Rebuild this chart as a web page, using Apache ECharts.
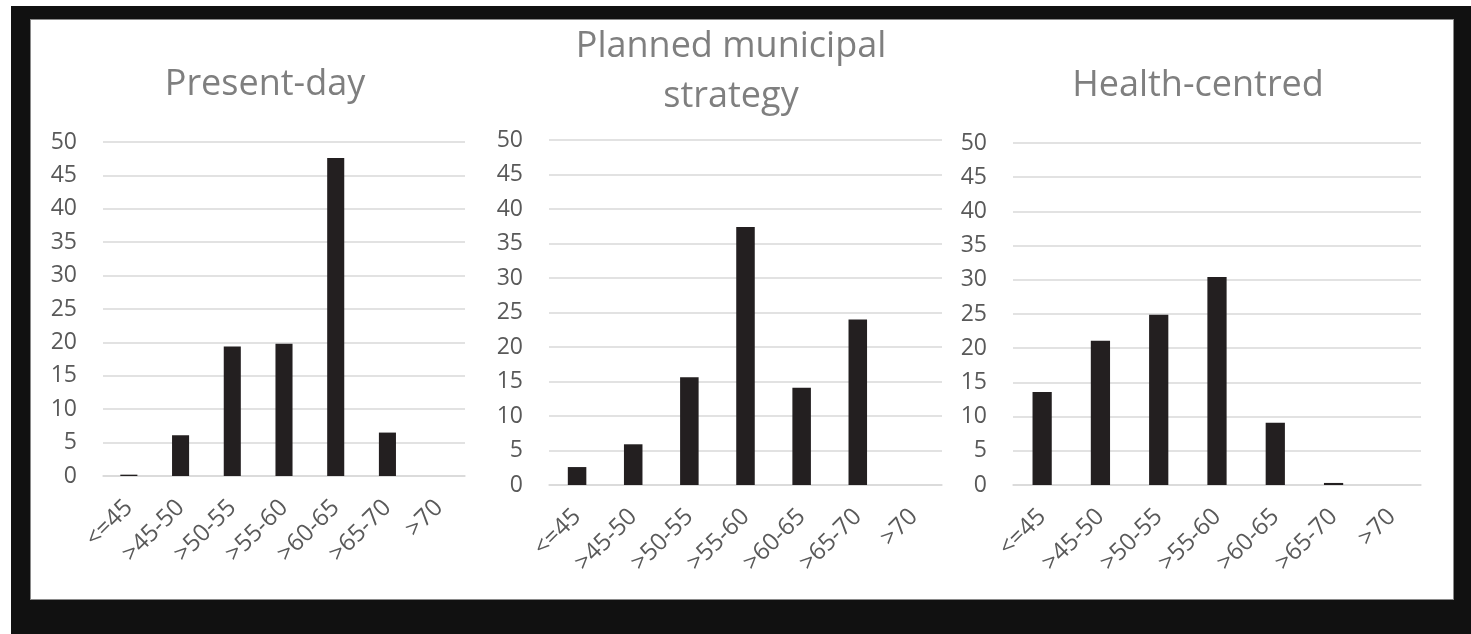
<!DOCTYPE html>
<html>
<head>
<meta charset="utf-8">
<script src="https://cdn.jsdelivr.net/npm/echarts@6/dist/echarts.min.js"></script>
<style>
  html, body { margin: 0; padding: 0; background: #ffffff; width: 1471px; height: 634px; overflow: hidden; }
  #frame { position: absolute; left: 11px; top: 6px; width: 1460px; height: 628px; background: #111111; }
  #inner { position: absolute; left: 30px; top: 19px; width: 1422px; height: 579px; background: #ffffff; border: 1px solid #8a8a8a; }
  #chart { position: absolute; left: 0; top: 0; width: 1471px; height: 634px; }
</style>
</head>
<body>
<div id="frame"></div>
<div id="inner"></div>
<div id="chart"></div>
<script>
const categories = ['<=45', '>45-50', '>50-55', '>55-60', '>60-65', '>65-70', '>70'];
const presentDay = [0.2, 6.1, 19.4, 19.8, 47.6, 6.5, 0];
const plannedMunicipal = [2.6, 5.9, 15.6, 37.4, 14.1, 24.0, 0];
const healthCentred = [13.6, 21.1, 24.9, 30.4, 9.1, 0.3, 0];
const titles = ['Present-day', 'Planned municipal\nstrategy', 'Health-centred'];
const yMin = 0, yMax = 50, yStep = 5;

const chart = echarts.init(document.getElementById('chart'), null, { renderer: 'canvas' });
const FONT = 'Open Sans';
const grids = [
  { left: 103, top: 142, width: 362, height: 334 },
  { left: 549, top: 140, width: 393, height: 345 },
  { left: 1013, top: 143, width: 408, height: 342 }
];
const titleCenters = [
  { x: 265, top: 60 },
  { x: 731, top: 22 },
  { x: 1198, top: 61 }
];
const seriesData = [presentDay, plannedMunicipal, healthCentred];

const option = {
  backgroundColor: 'transparent',
  animation: false,
  title: titles.map((t, i) => ({
    text: t,
    left: titleCenters[i].x,
    top: titleCenters[i].top,
    textAlign: 'center',
    padding: 0,
    textStyle: { fontFamily: FONT, fontSize: 36, fontWeight: 'normal', color: '#7f7f7f', lineHeight: 50 }
  })),
  grid: grids.map(g => Object.assign({ containLabel: false }, g)),
  xAxis: grids.map((g, i) => ({
    type: 'category',
    gridIndex: i,
    data: categories,
    axisLine: { show: true, lineStyle: { color: '#d9d9d9', width: 1.5 } },
    axisTick: { show: false },
    axisLabel: { rotate: 45, interval: 0, margin: 28, fontFamily: FONT, fontSize: 24, color: '#595959' }
  })),
  yAxis: grids.map((g, i) => ({
    type: 'value',
    gridIndex: i,
    min: yMin, max: yMax, interval: yStep,
    axisLine: { show: false },
    axisTick: { show: false },
    splitLine: { show: true, lineStyle: { color: '#d9d9d9', width: 1.5 } },
    axisLabel: { margin: 26, fontFamily: FONT, fontSize: 23, color: '#595959' }
  })),
  series: seriesData.map((d, i) => ({
    type: 'bar',
    xAxisIndex: i,
    yAxisIndex: i,
    data: d,
    barWidth: '33%',
    itemStyle: { color: '#231f20' }
  }))
};
chart.setOption(option);
</script>
</body>
</html>
